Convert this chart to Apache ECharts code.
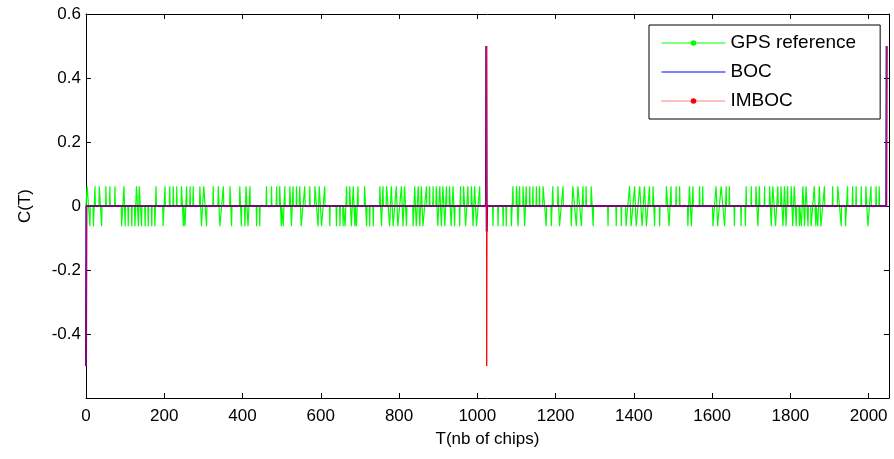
<!DOCTYPE html>
<html>
<head>
<meta charset="utf-8">
<script src="https://cdn.jsdelivr.net/npm/echarts@6/dist/echarts.min.js"></script>
<style>
html,body{margin:0;padding:0;background:#fff;}
#chart{width:894px;height:459px;}
</style>
</head>
<body>
<div id="chart"></div>
<script>
// ---- Data ----
const xTickLabels = [0, 200, 400, 600, 800, 1000, 1200, 1400, 1600, 1800, 2000];
const yTickLabels = [-0.4, -0.2, 0, 0.2, 0.4, 0.6];

// GPS reference: chip delays where the correlation sits at the high / low side level
const gpsHigh = 0.0616;   // ~63/1023
const gpsLow = -0.0635;   // ~-65/1023
const gpsBase = -0.001;   // ~-1/1023
const gpsPosT = [3, 23, 34, 51, 61, 74, 97, 129, 136, 179, 202, 214, 223, 232, 244, 257, 266, 274, 291, 301,
  325, 338, 351, 368, 393, 409, 419, 461, 474, 487, 495, 508, 521, 529, 538, 546, 559, 572, 585, 596, 610,
  666, 674, 683, 695, 712, 751, 759, 768, 780, 793, 806, 814, 840, 849, 857, 870, 878, 887, 895, 904, 912,
  921, 929, 938, 957, 965, 976, 985, 993, 1006, 1091, 1100, 1108, 1117, 1125, 1134, 1142, 1151, 1159, 1168,
  1193, 1206, 1219, 1244, 1257, 1270, 1278, 1291, 1389, 1402, 1415, 1427, 1440, 1449, 1483, 1495, 1508,
  1517, 1542, 1551, 1568, 1576, 1610, 1623, 1636, 1644, 1687, 1700, 1712, 1721, 1734, 1747, 1755, 1768,
  1776, 1785, 1793, 1802, 1810, 1832, 1840, 1861, 1874, 1887, 1908, 1921, 1946, 1959, 1968, 1981, 1993,
  2006, 2019, 2027];
const gpsNegT = [10, 19, 40, 91, 100, 108, 117, 125, 134, 142, 151, 159, 168, 176, 197, 249, 253, 295, 308,
  342, 372, 397, 406, 414, 436, 444, 499, 504, 525, 550, 593, 602, 623, 640, 649, 657, 662, 678, 687, 691,
  717, 725, 734, 755, 776, 785, 797, 810, 819, 836, 844, 853, 861, 899, 908, 917, 933, 942, 955, 970, 989,
  998, 1040, 1053, 1066, 1074, 1087, 1104, 1121, 1176, 1189, 1210, 1240, 1253, 1266, 1296, 1334, 1355,
  1368, 1380, 1393, 1406, 1421, 1432, 1453, 1466, 1490, 1538, 1547, 1602, 1614, 1632, 1657, 1674, 1685,
  1717, 1751, 1762, 1781, 1789, 1806, 1815, 1823, 1828, 1836, 1845, 1853, 1865, 1870, 1878, 1930, 1941, 1998];
const gpsEndT = 2046;

// BOC and IMBOC correlation: vertices (delay, value)
const bocT = [0, 1, 1022, 1023, 1024, 1025, 2045, 2046];
const bocC = [-0.5, 0, 0, 0.5, -0.08, 0, 0, 0.5];
const imbocT = [0, 1, 1022, 1023, 1024, 1025, 2045, 2046];
const imbocC = [-0.5, 0, 0, 0.5, -0.5, 0, 0, 0.5];

// ---- Build series data ----
function buildGps() {
  const ev = gpsPosT.map(t => [t, gpsHigh]).concat(gpsNegT.map(t => [t, gpsLow]));
  ev.sort((a, b) => a[0] - b[0]);
  const pts = [[0, gpsBase]];
  let prev = [0, gpsBase];
  for (const e of ev) {
    const gap = e[0] - prev[0];
    const direct = prev[1] !== gpsBase && (prev[1] > 0) !== (e[1] > 0) && gap <= 10;
    if (!direct && gap > 1) {
      if (prev[1] !== gpsBase) pts.push([prev[0] + 1, gpsBase]);
      if (gap > 2) pts.push([e[0] - 1, gpsBase]);
    }
    pts.push(e);
    prev = e;
  }
  pts.push([prev[0] + 1, gpsBase]);
  pts.push([gpsEndT, gpsBase]);
  return pts;
}
const gpsData = buildGps();
const bocData = bocT.map((t, i) => [t, bocC[i]]);
const imbocData = imbocT.map((t, i) => [t, imbocC[i]]);

const FONT = 'Liberation Sans, Arial, sans-serif';
const chart = echarts.init(document.getElementById('chart'), null, {renderer: 'canvas'});
const axisCommon = {
  type: 'value',
  axisLine: {onZero: false, lineStyle: {color: '#000', width: 1}},
  axisTick: {inside: true, length: 5, lineStyle: {color: '#000'}},
  splitLine: {show: false}
};
chart.setOption({
  animation: false,
  backgroundColor: '#fff',
  grid: {left: 86, right: 5, top: 14, bottom: 61},
  legend: {
    orient: 'vertical',
    left: 649, top: 25,
    padding: [8, 24, 8, 12],
    itemGap: 9,
    itemWidth: 64,
    itemHeight: 7,
    borderColor: '#000', borderWidth: 1,
    backgroundColor: '#fff',
    textStyle: {fontFamily: FONT, fontSize: 19, color: '#000', lineHeight: 20},
    data: [
      {name: 'GPS reference', lineStyle: {width: 1}},
      {name: 'BOC', lineStyle: {width: 1}, itemStyle: {color: 'rgba(0,0,0,0)', borderWidth: 0, opacity: 0}},
      {name: 'IMBOC', lineStyle: {width: 1, type: [1, 1]}}
    ]
  },
  xAxis: [
    Object.assign({}, axisCommon, {
      min: 0, max: 2052, interval: 200,
      position: 'bottom',
      name: 'T(nb of chips)', nameLocation: 'middle', nameGap: 33,
      nameTextStyle: {fontFamily: FONT, fontSize: 17, color: '#000'},
      axisLabel: {fontFamily: FONT, fontSize: 17, color: '#000', margin: 10, showMaxLabel: false,
        formatter: v => xTickLabels.indexOf(v) >= 0 ? String(v) : ''}
    }),
    Object.assign({}, axisCommon, {
      min: 0, max: 2052, interval: 200, position: 'top',
      axisLabel: {show: false}
    })
  ],
  yAxis: [
    Object.assign({}, axisCommon, {
      min: -0.6, max: 0.6, interval: 0.2,
      position: 'left',
      name: 'C(T)', nameLocation: 'middle', nameGap: 52,
      nameTextStyle: {fontFamily: FONT, fontSize: 17, color: '#000'},
      axisLabel: {fontFamily: FONT, fontSize: 17, color: '#000', margin: 5,
        formatter: v => {
          const r = Math.round(v * 10) / 10;
          return yTickLabels.indexOf(r) >= 0 ? String(r) : '';
        }}
    }),
    Object.assign({}, axisCommon, {
      min: -0.6, max: 0.6, interval: 0.2, position: 'right',
      axisLabel: {show: false}
    })
  ],
  series: [
    {
      name: 'GPS reference', type: 'line', data: gpsData,
      symbol: 'circle', symbolSize: 6, showSymbol: false,
      color: '#00ff00', lineStyle: {color: '#00ff00', width: 1.2},
      silent: true, z: 2
    },
    {
      name: 'BOC', type: 'line', data: bocData,
      symbol: 'none', showSymbol: false,
      color: '#0000ff', lineStyle: {color: '#0000ff', width: 2},
      silent: true, z: 3
    },
    {
      name: 'IMBOC', type: 'line', data: imbocData,
      symbol: 'circle', symbolSize: 6, showSymbol: false,
      color: '#ff0000', lineStyle: {color: '#ff0000', width: 1},
      silent: true, z: 4
    }
  ]
});
</script>
</body>
</html>
